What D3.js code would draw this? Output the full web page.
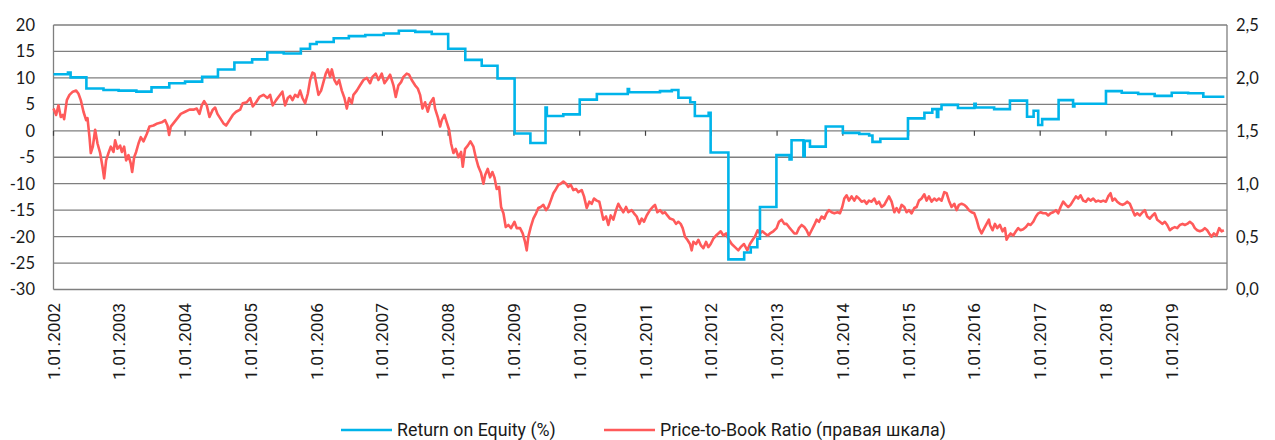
<!DOCTYPE html>
<html><head><meta charset="utf-8">
<script src="https://cdn.jsdelivr.net/npm/d3@7/dist/d3.min.js"></script>
<style>
html,body{margin:0;padding:0;background:#fff;}
svg{display:block;}
</style></head>
<body>
<svg id="chart" width="1275" height="440"></svg>
<script>
// ---- data ----
const yearTicks = [2002,2003,2004,2005,2006,2007,2008,2009,2010,2011,2012,2013,2014,2015,2016,2017,2018,2019];
const leftTicks = [-30,-25,-20,-15,-10,-5,0,5,10,15,20];
const rightTicks = [0,0.5,1,1.5,2,2.5];
const legendLabels = ["Return on Equity (%)", "Price-to-Book Ratio (правая шкала)"];

// Return on Equity (%), step series: [decimal year, value]
const roeSeries = [
[2002.00,10.7],[2002.22,11.0],[2002.26,10.1],[2002.50,8.0],[2002.76,7.7],[2002.99,7.6],[2003.26,7.4],[2003.49,8.2],
[2003.76,9.0],[2004.00,9.3],[2004.26,10.2],[2004.50,11.6],[2004.75,12.9],[2005.02,13.5],[2005.25,14.8],[2005.50,14.6],
[2005.76,15.5],[2005.90,16.4],[2006.00,16.8],[2006.26,17.5],[2006.49,17.9],[2006.74,18.1],[2007.02,18.4],[2007.25,18.9],
[2007.50,18.7],[2007.75,18.3],[2008.00,15.5],[2008.26,13.4],[2008.51,12.3],[2008.75,9.9],[2009.01,-0.5],[2009.25,-2.3],
[2009.48,4.4],[2009.50,2.8],[2009.75,3.1],[2010.00,5.9],[2010.26,6.95],[2010.73,7.9],[2010.75,7.3],[2011.22,7.5],
[2011.40,7.7],[2011.50,6.25],[2011.68,5.4],[2011.75,2.8],[2011.96,3.4],[2011.99,-4.1],[2012.26,-24.3],[2012.50,-23.0],
[2012.60,-22.0],[2012.70,-20.4],[2012.74,-14.4],[2012.99,-4.6],[2013.19,-5.4],[2013.22,-1.8],[2013.40,-4.8],[2013.42,-1.9],
[2013.50,-3.0],[2013.74,0.8],[2014.00,-0.4],[2014.25,-0.6],[2014.40,-0.9],[2014.45,-2.1],[2014.57,-1.5],[2014.99,2.35],
[2015.24,3.4],[2015.36,4.1],[2015.43,2.6],[2015.45,4.1],[2015.50,4.9],[2015.75,4.3],[2016.00,5.1],[2016.02,4.4],
[2016.30,4.1],[2016.54,5.7],[2016.80,2.65],[2016.90,3.8],[2016.97,1.1],[2017.03,2.2],[2017.28,5.8],[2017.50,4.6],
[2017.52,5.1],[2018.00,7.5],[2018.24,7.2],[2018.49,6.95],[2018.74,6.6],[2019.00,7.2],[2019.25,7.1],[2019.48,6.45],
[2019.80,6.45]
];

// Price-to-Book Ratio (right scale): [decimal year, value]
const pbSeries = [
[2002.000,1.71],[2002.040,1.65],[2002.076,1.74],[2002.111,1.63],[2002.142,1.65],[2002.162,1.61],[2002.203,1.79],[2002.243,1.84],
[2002.294,1.87],[2002.344,1.88],[2002.380,1.85],[2002.415,1.79],[2002.456,1.68],[2002.496,1.60],[2002.517,1.62],[2002.547,1.44],
[2002.567,1.29],[2002.598,1.35],[2002.633,1.51],[2002.669,1.38],[2002.709,1.29],[2002.745,1.16],[2002.770,1.05],[2002.800,1.22],
[2002.836,1.29],[2002.871,1.35],[2002.912,1.30],[2002.937,1.41],[2002.973,1.33],[2003.013,1.36],[2003.039,1.30],[2003.074,1.35],
[2003.104,1.22],[2003.140,1.27],[2003.175,1.19],[2003.196,1.11],[2003.226,1.25],[2003.256,1.30],[2003.292,1.38],[2003.327,1.44],
[2003.368,1.40],[2003.418,1.47],[2003.459,1.54],[2003.520,1.55],[2003.581,1.57],[2003.646,1.58],[2003.697,1.60],[2003.733,1.55],
[2003.758,1.46],[2003.783,1.54],[2003.834,1.58],[2003.885,1.62],[2003.935,1.66],[2004.001,1.68],[2004.067,1.70],[2004.128,1.70],
[2004.178,1.71],[2004.219,1.66],[2004.254,1.74],[2004.290,1.78],[2004.330,1.74],[2004.371,1.63],[2004.422,1.70],[2004.457,1.72],
[2004.492,1.66],[2004.533,1.62],[2004.584,1.57],[2004.624,1.55],[2004.675,1.60],[2004.726,1.65],[2004.776,1.68],[2004.837,1.70],
[2004.877,1.76],[2004.938,1.77],[2004.989,1.81],[2005.029,1.73],[2005.080,1.77],[2005.131,1.82],[2005.192,1.84],[2005.252,1.81],
[2005.293,1.84],[2005.333,1.74],[2005.384,1.79],[2005.445,1.84],[2005.480,1.87],
[2005.521,1.74],[2005.562,1.81],[2005.597,1.83],[2005.633,1.79],[2005.673,1.84],[2005.714,1.82],[2005.749,1.88],[2005.785,1.81],
[2005.825,1.76],[2005.866,1.85],[2005.901,1.98],[2005.937,2.05],[2005.967,2.04],[2006.003,1.92],[2006.028,1.84],[2006.068,1.88],
[2006.104,1.96],[2006.139,2.04],[2006.170,2.08],[2006.205,2.01],[2006.231,2.08],[2006.271,1.98],[2006.307,1.94],[2006.342,1.98],
[2006.383,1.88],[2006.423,1.81],[2006.459,1.71],[2006.494,1.81],[2006.535,1.76],[2006.560,1.84],[2006.611,1.88],[2006.661,1.93],
[2006.712,1.98],[2006.763,2.00],[2006.813,1.95],[2006.849,2.01],[2006.899,2.04],[2006.940,1.98],[2006.990,2.04],[2007.031,1.95],
[2007.066,1.98],[2007.117,2.03],[2007.168,1.93],[2007.203,1.82],[2007.244,1.93],[2007.284,1.96],[2007.320,2.01],[2007.370,2.04],
[2007.406,2.03],[2007.446,1.98],[2007.497,1.93],[2007.538,1.90],[2007.573,1.84],[2007.609,1.71],[2007.649,1.77],[2007.690,1.68],
[2007.725,1.76],[2007.776,1.81],[2007.801,1.71],[2007.842,1.63],[2007.877,1.54],[2007.902,1.60],[2007.943,1.65],[2007.978,1.58],
[2008.014,1.51],[2008.044,1.38],[2008.080,1.29],[2008.115,1.33],[2008.156,1.25],[2008.196,1.30],[2008.222,1.16],[2008.257,1.33],
[2008.298,1.36],[2008.338,1.40],[2008.384,1.35],[2008.419,1.25],[2008.460,1.16],[2008.500,1.10],[2008.536,1.00],[2008.561,1.08],
[2008.601,1.14],[2008.637,1.06],[2008.672,1.11],[2008.703,1.06],[2008.738,0.95],[2008.774,0.97],[2008.804,0.78],[2008.840,0.72],
[2008.875,0.59],[2008.916,0.61],[2008.956,0.58],[2009.007,0.64],[2009.042,0.58],
[2009.093,0.58],[2009.133,0.53],[2009.169,0.45],[2009.194,0.37],[2009.219,0.50],[2009.255,0.59],[2009.295,0.67],[2009.336,0.72],
[2009.371,0.77],[2009.407,0.78],[2009.447,0.80],[2009.488,0.75],[2009.523,0.78],[2009.559,0.84],[2009.599,0.91],[2009.640,0.95],
[2009.675,0.99],[2009.711,1.00],[2009.751,1.02],[2009.792,1.00],[2009.827,0.97],[2009.863,0.99],[2009.903,0.94],[2009.944,0.95],
[2009.979,0.92],[2010.030,0.94],[2010.065,0.88],[2010.106,0.77],[2010.146,0.83],[2010.182,0.81],[2010.217,0.86],[2010.258,0.84],
[2010.298,0.83],[2010.334,0.73],[2010.359,0.66],[2010.400,0.69],[2010.435,0.61],[2010.471,0.70],[2010.511,0.66],[2010.552,0.75],
[2010.587,0.81],[2010.623,0.77],[2010.663,0.73],[2010.704,0.78],[2010.739,0.73],[2010.790,0.75],[2010.825,0.72],[2010.866,0.69],
[2010.906,0.62],[2010.942,0.67],[2010.977,0.64],[2011.018,0.70],[2011.068,0.75],[2011.109,0.78],[2011.144,0.80],[2011.180,0.73],
[2011.220,0.75],[2011.261,0.72],[2011.296,0.73],[2011.332,0.70],[2011.372,0.67],[2011.423,0.66],[2011.464,0.62],[2011.499,0.64],
[2011.535,0.62],[2011.565,0.58],[2011.600,0.50],[2011.636,0.47],[2011.676,0.43],[2011.702,0.37],[2011.727,0.45],[2011.768,0.43],
[2011.803,0.47],[2011.839,0.42],[2011.879,0.39],[2011.920,0.45],[2011.955,0.40],[2011.991,0.43],[2012.031,0.48],[2012.072,0.51],
[2012.107,0.53],[2012.143,0.55],[2012.183,0.51],[2012.224,0.53],[2012.259,0.48],[2012.310,0.43],[2012.360,0.40],[2012.411,0.37],
[2012.446,0.40],[2012.497,0.43],[2012.548,0.37],[2012.588,0.43],[2012.629,0.47],
[2012.664,0.50],[2012.705,0.56],[2012.740,0.53],[2012.776,0.55],[2012.816,0.53],[2012.857,0.51],[2012.892,0.53],[2012.943,0.55],
[2012.993,0.58],[2013.029,0.64],[2013.069,0.66],[2013.110,0.62],[2013.145,0.62],[2013.181,0.59],[2013.221,0.56],[2013.262,0.53],
[2013.297,0.53],[2013.333,0.58],[2013.373,0.61],[2013.414,0.59],[2013.449,0.56],[2013.485,0.51],[2013.525,0.56],[2013.566,0.61],
[2013.601,0.66],[2013.637,0.64],[2013.677,0.69],[2013.718,0.67],[2013.753,0.72],[2013.789,0.75],[2013.829,0.73],[2013.870,0.72],
[2013.920,0.73],[2013.956,0.72],[2013.991,0.78],[2014.022,0.86],[2014.057,0.89],[2014.093,0.84],[2014.133,0.88],[2014.174,0.84],
[2014.209,0.88],[2014.245,0.86],[2014.285,0.83],[2014.326,0.84],[2014.361,0.81],[2014.397,0.84],[2014.437,0.83],[2014.478,0.86],
[2014.513,0.81],[2014.549,0.83],[2014.589,0.78],[2014.630,0.80],[2014.665,0.84],[2014.701,0.88],[2014.741,0.83],[2014.782,0.73],
[2014.817,0.77],[2014.853,0.73],[2014.893,0.80],[2014.934,0.78],[2014.969,0.73],[2015.005,0.75],[2015.045,0.72],[2015.086,0.77],
[2015.121,0.78],[2015.157,0.84],[2015.197,0.86],[2015.238,0.90],[2015.273,0.84],[2015.309,0.88],[2015.349,0.83],[2015.390,0.86],
[2015.425,0.84],[2015.461,0.86],[2015.501,0.84],[2015.542,0.92],[2015.577,0.91],[2015.613,0.84],[2015.653,0.78],[2015.694,0.81],
[2015.729,0.75],[2015.765,0.80],[2015.805,0.81],[2015.846,0.80],[2015.881,0.78],[2015.917,0.75],[2015.957,0.73],[2015.998,0.72],
[2016.033,0.66],[2016.069,0.58],[2016.109,0.53],[2016.150,0.58],[2016.185,0.62],[2016.220,0.66],
[2016.236,0.61],[2016.276,0.56],[2016.312,0.62],[2016.347,0.58],[2016.388,0.61],[2016.428,0.55],[2016.464,0.58],[2016.489,0.47],
[2016.514,0.50],[2016.550,0.53],[2016.590,0.51],[2016.631,0.55],[2016.666,0.58],[2016.702,0.56],[2016.742,0.57],[2016.783,0.59],
[2016.818,0.62],[2016.854,0.61],[2016.894,0.64],[2016.935,0.69],[2016.970,0.72],[2017.006,0.73],[2017.046,0.72],[2017.087,0.72],
[2017.122,0.70],[2017.158,0.72],[2017.198,0.73],[2017.239,0.75],[2017.274,0.72],[2017.310,0.78],[2017.350,0.83],[2017.391,0.80],
[2017.426,0.78],[2017.462,0.80],[2017.502,0.84],[2017.543,0.88],[2017.578,0.86],[2017.614,0.89],[2017.654,0.84],[2017.695,0.83],
[2017.730,0.86],[2017.766,0.84],[2017.806,0.86],[2017.847,0.83],[2017.882,0.84],[2017.918,0.83],[2017.958,0.84],[2017.999,0.83],
[2018.034,0.88],[2018.070,0.91],[2018.100,0.84],[2018.135,0.86],[2018.171,0.83],[2018.211,0.81],[2018.252,0.80],[2018.287,0.81],
[2018.323,0.83],[2018.363,0.81],[2018.404,0.75],[2018.439,0.70],[2018.475,0.72],[2018.515,0.70],[2018.556,0.73],[2018.591,0.75],
[2018.627,0.69],[2018.667,0.67],[2018.708,0.70],[2018.743,0.72],[2018.779,0.66],[2018.819,0.64],[2018.860,0.62],[2018.895,0.64],
[2018.931,0.61],[2018.971,0.56],[2019.012,0.58],[2019.047,0.59],[2019.083,0.58],[2019.123,0.61],[2019.164,0.62],[2019.199,0.61],
[2019.235,0.62],[2019.275,0.64],[2019.316,0.62],[2019.351,0.58],[2019.387,0.56],[2019.427,0.55],[2019.468,0.56],[2019.503,0.58],
[2019.539,0.56],[2019.569,0.53],[2019.605,0.50],[2019.640,0.53],[2019.681,0.51],[2019.721,0.58],[2019.757,0.55],[2019.792,0.56]
];

// ---- layout ----
const plot = {left: 53.5, right: 1227, top: 25, bottom: 289.5};
const colors = {roe: "#00b4ea", pb: "#ff5a5a", grid: "#7f7f7f", text: "#1a1a1a"};

const svg = d3.select("#chart");

const x = d3.scaleLinear().domain([2002, 2019.84]).range([plot.left, plot.right]);
const yL = d3.scaleLinear().domain([-30, 20]).range([plot.bottom, plot.top]);
const yR = d3.scaleLinear().domain([0, 2.5]).range([plot.bottom, plot.top]);

// gridlines
svg.append("g").selectAll("line").data(leftTicks).join("line")
  .attr("x1", plot.left).attr("x2", plot.right)
  .attr("y1", d => yL(d)).attr("y2", d => yL(d))
  .attr("stroke", colors.grid).attr("stroke-width", 1.3);

// frame sides
svg.append("line").attr("x1", plot.left).attr("x2", plot.left).attr("y1", plot.top).attr("y2", plot.bottom)
  .attr("stroke", colors.grid).attr("stroke-width", 1.3);
svg.append("line").attr("x1", plot.right).attr("x2", plot.right).attr("y1", plot.top).attr("y2", plot.bottom)
  .attr("stroke", colors.grid).attr("stroke-width", 1.3);

// x-axis ticks on zero line
svg.append("g").selectAll("line").data(yearTicks).join("line")
  .attr("x1", d => x(d)).attr("x2", d => x(d))
  .attr("y1", yL(0)).attr("y2", yL(0) + 5)
  .attr("stroke", "#404040").attr("stroke-width", 1.2);

// left axis labels
svg.append("g").selectAll("text").data(leftTicks).join("text")
  .attr("x", 35).attr("y", d => yL(d)).attr("dy", "0.36em")
  .attr("text-anchor", "end")
  .style("font-family", "Lato, 'Open Sans', sans-serif").style("font-size", "16.5px")
  .attr("fill", colors.text)
  .text(d => d);

// right axis labels
const fmtR = d => d3.format(".1f")(d).replace(".", ",");
svg.append("g").selectAll("text").data(rightTicks).join("text")
  .attr("x", 1236).attr("y", d => yR(d)).attr("dy", "0.36em")
  .attr("text-anchor", "start")
  .style("font-family", "Lato, 'Open Sans', sans-serif").style("font-size", "16.5px")
  .attr("fill", colors.text)
  .text(fmtR);

// x labels, rotated
svg.append("g").selectAll("text").data(yearTicks).join("text")
  .attr("transform", d => `translate(${x(d)},303) rotate(-90)`)
  .attr("text-anchor", "end").attr("dy", "0.35em")
  .style("font-family", "Roboto, sans-serif").style("font-size", "17.3px")
  .attr("fill", colors.text)
  .text(d => "1.01." + d);

// series
const lineRoe = d3.line().x(d => x(d[0])).y(d => yL(d[1])).curve(d3.curveStepAfter);
const linePb = d3.line().x(d => x(d[0])).y(d => yR(d[1]));

svg.append("path").datum(pbSeries).attr("d", linePb)
  .attr("fill", "none").attr("stroke", colors.pb).attr("stroke-width", 2.6)
  .attr("stroke-linejoin", "round");
svg.append("path").datum(roeSeries).attr("d", lineRoe)
  .attr("fill", "none").attr("stroke", colors.roe).attr("stroke-width", 2.6);

// legend
const legend = [
  {label: legendLabels[0], color: colors.roe, x0: 341},
  {label: legendLabels[1], color: colors.pb, x0: 604}
];
const lg = svg.append("g");
legend.forEach(l => {
  lg.append("line").attr("x1", l.x0).attr("x2", l.x0 + 51).attr("y1", 430).attr("y2", 430)
    .attr("stroke", l.color).attr("stroke-width", 2.6);
  lg.append("text").attr("x", l.x0 + 56).attr("y", 430).attr("dy", "0.36em")
    .style("font-family", "Roboto, sans-serif").style("font-size", "17.8px")
    .attr("fill", colors.text).text(l.label);
});
</script>
</body></html>
